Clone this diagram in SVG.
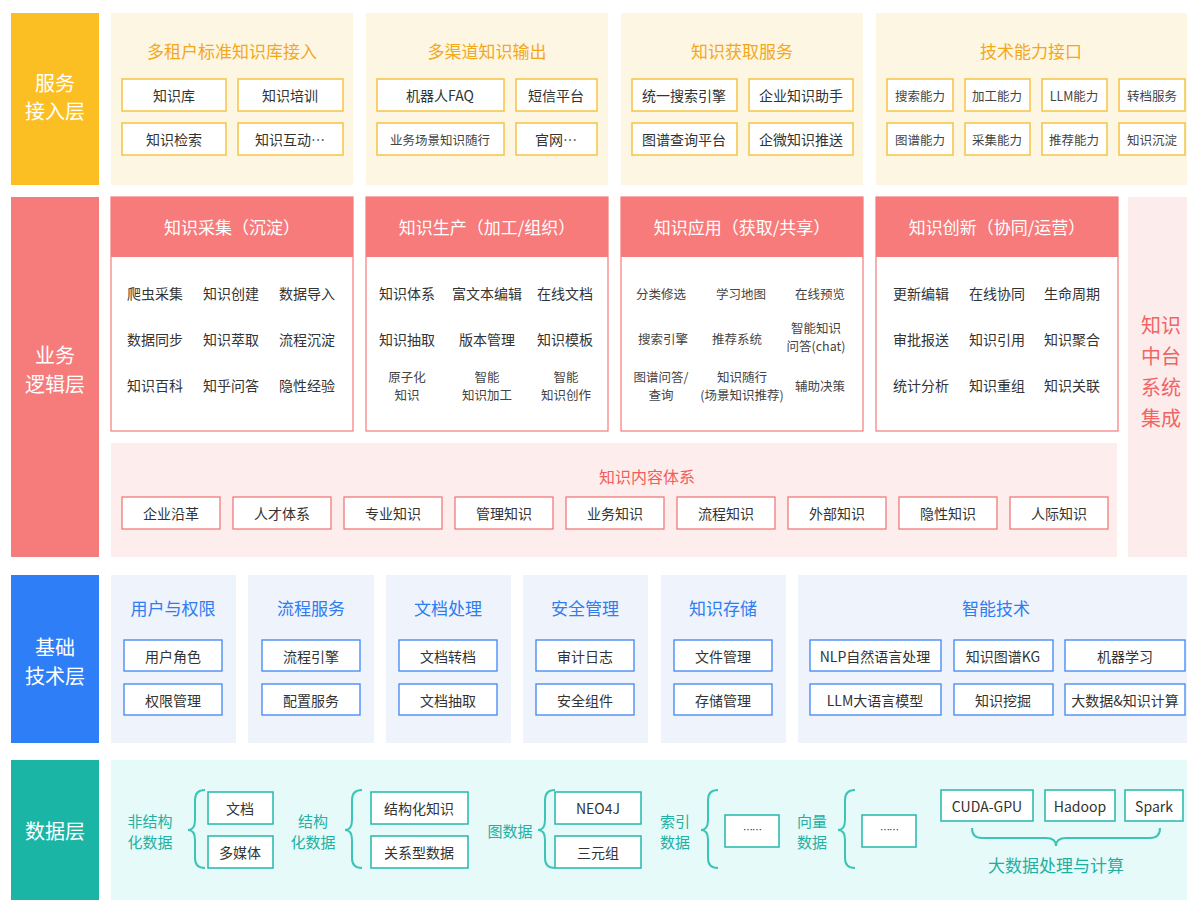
<svg xmlns="http://www.w3.org/2000/svg" width="1200" height="913" viewBox="0 0 1200 913">
<style>
text{font-family:"Noto Sans CJK SC","Noto Sans",sans-serif;text-anchor:middle;dominant-baseline:central}
.lab{fill:#fff;font-size:20px}
.yt{fill:#F2A81D;font-size:17px}
.yb{fill:#fff;stroke:#F5C445;stroke-width:1.5}
.t{fill:#333;font-size:14px}
.ts{fill:#444;font-size:12.5px}
.rh{fill:#F77B7B}
.rb{fill:#fff;stroke:#F77B7B;stroke-width:1.2}
.rt{fill:#fff;font-size:17px}
.pb{fill:#fff;stroke:#F07070;stroke-width:1.2}
.bt{fill:#2F7DF0;font-size:17px}
.bb{fill:#fff;stroke:#3F86F5;stroke-width:1.3}
.gb{fill:#fff;stroke:#22B8AA;stroke-width:1.5}
.gt{fill:#22B0A3;font-size:15px}
.br{fill:none;stroke:#3CC4B6;stroke-width:2}
.dots{fill:#333;font-size:10px;letter-spacing:-1px}
</style>
<rect width="1200" height="913" fill="#fff"/>
<!-- Row 1 -->
<g id="row1">
<rect x="11" y="13" width="88" height="172" fill="#FBBF24"/>
<text class="lab" x="55" y="82">服务</text><text class="lab" x="55" y="110">接入层</text>
<g id="p1"><rect x="111" y="13" width="242" height="172" fill="#FDF6E3"/>
<text class="yt" x="232" y="50">多租户标准知识库接入</text>
<rect class="yb" x="122" y="79" width="104" height="32"/><text class="t" x="174" y="95">知识库</text>
<rect class="yb" x="238" y="79" width="105" height="32"/><text class="t" x="290" y="95">知识培训</text>
<rect class="yb" x="122" y="123" width="104" height="32"/><text class="t" x="174" y="139">知识检索</text>
<rect class="yb" x="238" y="123" width="105" height="32"/><text class="t" x="290" y="139">知识互动…</text></g>
<g id="p2"><rect x="366" y="13" width="242" height="172" fill="#FDF6E3"/>
<text class="yt" x="487" y="50">多渠道知识输出</text>
<rect class="yb" x="377" y="79" width="127" height="32"/><text class="t" x="440" y="95">机器人FAQ</text>
<rect class="yb" x="516" y="79" width="81" height="32"/><text class="t" x="556" y="95">短信平台</text>
<rect class="yb" x="377" y="123" width="127" height="32"/><text class="ts" x="440" y="139">业务场景知识随行</text>
<rect class="yb" x="516" y="123" width="81" height="32"/><text class="t" x="556" y="139">官网…</text></g>
<g id="p3"><rect x="621" y="13" width="242" height="172" fill="#FDF6E3"/>
<text class="yt" x="742" y="50">知识获取服务</text>
<rect class="yb" x="632" y="79" width="105" height="32"/><text class="t" x="684" y="95">统一搜索引擎</text>
<rect class="yb" x="749" y="79" width="104" height="32"/><text class="t" x="801" y="95">企业知识助手</text>
<rect class="yb" x="632" y="123" width="105" height="32"/><text class="t" x="684" y="139">图谱查询平台</text>
<rect class="yb" x="749" y="123" width="104" height="32"/><text class="t" x="801" y="139">企微知识推送</text></g>
<g id="p4"><rect x="876" y="13" width="311" height="172" fill="#FDF6E3"/>
<text class="yt" x="1031" y="50">技术能力接口</text>
<rect class="yb" x="887" y="79" width="66" height="32"/><text class="ts" x="920" y="95">搜索能力</text>
<rect class="yb" x="965" y="79" width="65" height="32"/><text class="ts" x="997" y="95">加工能力</text>
<rect class="yb" x="1042" y="79" width="65" height="32"/><text class="ts" x="1074" y="95">LLM能力</text>
<rect class="yb" x="1119" y="79" width="66" height="32"/><text class="ts" x="1152" y="95">转档服务</text>
<rect class="yb" x="887" y="123" width="66" height="32"/><text class="ts" x="920" y="139">图谱能力</text>
<rect class="yb" x="965" y="123" width="65" height="32"/><text class="ts" x="997" y="139">采集能力</text>
<rect class="yb" x="1042" y="123" width="65" height="32"/><text class="ts" x="1074" y="139">推荐能力</text>
<rect class="yb" x="1119" y="123" width="66" height="32"/><text class="ts" x="1152" y="139">知识沉淀</text></g>
</g>
<!-- Row 2 -->
<g id="row2">
<rect x="11" y="197" width="88" height="360" fill="#F67B7B"/>
<text class="lab" x="55" y="354">业务</text><text class="lab" x="55" y="383">逻辑层</text>
<g id="q1"><rect class="rb" x="111" y="197" width="242" height="234"/><rect class="rh" x="111" y="197" width="242" height="60"/>
<text class="rt" x="232" y="226">知识采集（沉淀）</text>
<text class="t" x="155" y="293">爬虫采集</text><text class="t" x="231" y="293">知识创建</text><text class="t" x="307" y="293">数据导入</text>
<text class="t" x="155" y="339">数据同步</text><text class="t" x="231" y="339">知识萃取</text><text class="t" x="307" y="339">流程沉淀</text>
<text class="t" x="155" y="385">知识百科</text><text class="t" x="231" y="385">知乎问答</text><text class="t" x="307" y="385">隐性经验</text></g>
<g id="q2"><rect class="rb" x="366" y="197" width="242" height="234"/><rect class="rh" x="366" y="197" width="242" height="60"/>
<text class="rt" x="487" y="226">知识生产（加工/组织）</text>
<text class="t" x="407" y="293">知识体系</text><text class="t" x="487" y="293">富文本编辑</text><text class="t" x="565" y="293">在线文档</text>
<text class="t" x="407" y="339">知识抽取</text><text class="t" x="487" y="339">版本管理</text><text class="t" x="565" y="339">知识模板</text>
<text class="ts" x="407" y="376">原子化</text><text class="ts" x="407" y="394">知识</text>
<text class="ts" x="487" y="376">智能</text><text class="ts" x="487" y="394">知识加工</text>
<text class="ts" x="566" y="376">智能</text><text class="ts" x="566" y="394">知识创作</text></g>
<g id="q3"><rect class="rb" x="621" y="197" width="242" height="234"/><rect class="rh" x="621" y="197" width="242" height="60"/>
<text class="rt" x="742" y="226">知识应用（获取/共享）</text>
<text class="ts" x="661" y="293">分类修选</text><text class="ts" x="741" y="293">学习地图</text><text class="ts" x="820" y="293">在线预览</text>
<text class="ts" x="663" y="338">搜索引擎</text><text class="ts" x="737" y="338">推荐系统</text>
<text class="ts" x="816" y="327">智能知识</text><text class="ts" x="816" y="345">问答(chat)</text>
<text class="ts" x="661" y="376">图谱问答/</text><text class="ts" x="661" y="394">查询</text>
<text class="ts" x="742" y="376">知识随行</text><text class="ts" x="742" y="394">(场景知识推荐)</text>
<text class="ts" x="820" y="385">辅助决策</text></g>
<g id="q4"><rect class="rb" x="876" y="197" width="242" height="234"/><rect class="rh" x="876" y="197" width="242" height="60"/>
<text class="rt" x="997" y="226">知识创新（协同/运营）</text>
<text class="t" x="921" y="293">更新编辑</text><text class="t" x="997" y="293">在线协同</text><text class="t" x="1072" y="293">生命周期</text>
<text class="t" x="921" y="339">审批报送</text><text class="t" x="997" y="339">知识引用</text><text class="t" x="1072" y="339">知识聚合</text>
<text class="t" x="921" y="385">统计分析</text><text class="t" x="997" y="385">知识重组</text><text class="t" x="1072" y="385">知识关联</text></g>
<g id="side"><rect x="1128" y="197" width="59" height="360" fill="#FDECEC"/>
<text fill="#F26464" font-size="20" x="1161" y="324">知识</text><text fill="#F26464" font-size="20" x="1161" y="355">中台</text>
<text fill="#F26464" font-size="20" x="1161" y="386">系统</text><text fill="#F26464" font-size="20" x="1161" y="417">集成</text></g>
<g id="content"><rect x="111" y="443" width="1006" height="114" fill="#FDEDED"/>
<text fill="#F25C5C" font-size="16" x="647" y="476">知识内容体系</text>
<rect class="pb" x="122" y="497" width="98" height="32"/><text class="t" x="171" y="513">企业沿革</text>
<rect class="pb" x="233" y="497" width="98" height="32"/><text class="t" x="282" y="513">人才体系</text>
<rect class="pb" x="344" y="497" width="98" height="32"/><text class="t" x="393" y="513">专业知识</text>
<rect class="pb" x="455" y="497" width="98" height="32"/><text class="t" x="504" y="513">管理知识</text>
<rect class="pb" x="566" y="497" width="98" height="32"/><text class="t" x="615" y="513">业务知识</text>
<rect class="pb" x="677" y="497" width="98" height="32"/><text class="t" x="726" y="513">流程知识</text>
<rect class="pb" x="788" y="497" width="98" height="32"/><text class="t" x="837" y="513">外部知识</text>
<rect class="pb" x="899" y="497" width="98" height="32"/><text class="t" x="948" y="513">隐性知识</text>
<rect class="pb" x="1010" y="497" width="98" height="32"/><text class="t" x="1059" y="513">人际知识</text></g>
</g>
<!-- Row 3 -->
<g id="row3">
<rect x="11" y="575" width="88" height="168" fill="#2D7EF7"/>
<text class="lab" x="55" y="646">基础</text><text class="lab" x="55" y="675">技术层</text>
<g id="b1"><rect x="111" y="575" width="125" height="168" fill="#EEF3FC"/><text class="bt" x="173" y="607">用户与权限</text>
<rect class="bb" x="124" y="640" width="98" height="31"/><text class="t" x="173" y="656">用户角色</text>
<rect class="bb" x="124" y="684" width="98" height="31"/><text class="t" x="173" y="700">权限管理</text></g>
<g id="b2"><rect x="248" y="575" width="126" height="168" fill="#EEF3FC"/><text class="bt" x="311" y="607">流程服务</text>
<rect class="bb" x="262" y="640" width="98" height="31"/><text class="t" x="311" y="656">流程引擎</text>
<rect class="bb" x="262" y="684" width="98" height="31"/><text class="t" x="311" y="700">配置服务</text></g>
<g id="b3"><rect x="386" y="575" width="125" height="168" fill="#EEF3FC"/><text class="bt" x="448" y="607">文档处理</text>
<rect class="bb" x="399" y="640" width="98" height="31"/><text class="t" x="448" y="656">文档转档</text>
<rect class="bb" x="399" y="684" width="98" height="31"/><text class="t" x="448" y="700">文档抽取</text></g>
<g id="b4"><rect x="523" y="575" width="125" height="168" fill="#EEF3FC"/><text class="bt" x="585" y="607">安全管理</text>
<rect class="bb" x="536" y="640" width="98" height="31"/><text class="t" x="585" y="656">审计日志</text>
<rect class="bb" x="536" y="684" width="98" height="31"/><text class="t" x="585" y="700">安全组件</text></g>
<g id="b5"><rect x="661" y="575" width="125" height="168" fill="#EEF3FC"/><text class="bt" x="723" y="607">知识存储</text>
<rect class="bb" x="674" y="640" width="98" height="31"/><text class="t" x="723" y="656">文件管理</text>
<rect class="bb" x="674" y="684" width="98" height="31"/><text class="t" x="723" y="700">存储管理</text></g>
<g id="b6"><rect x="798" y="575" width="389" height="168" fill="#EEF3FC"/><text class="bt" x="996" y="607">智能技术</text>
<rect class="bb" x="810" y="640" width="131" height="31"/><text class="t" x="875" y="656">NLP自然语言处理</text>
<rect class="bb" x="954" y="640" width="99" height="31"/><text class="t" x="1003" y="656">知识图谱KG</text>
<rect class="bb" x="1065" y="640" width="120" height="31"/><text class="t" x="1125" y="656">机器学习</text>
<rect class="bb" x="810" y="684" width="131" height="31"/><text class="t" x="875" y="700">LLM大语言模型</text>
<rect class="bb" x="954" y="684" width="99" height="31"/><text class="t" x="1003" y="700">知识挖掘</text>
<rect class="bb" x="1065" y="684" width="120" height="31"/><text class="t" x="1125" y="700">大数据&amp;知识计算</text></g>
</g>
<!-- Row 4 -->
<g id="row4">
<rect x="11" y="760" width="88" height="140" fill="#1BB5A6"/>
<text class="lab" x="55" y="830">数据层</text>
<rect x="111" y="760" width="1076" height="140" fill="#E6FAF9"/>
<g id="d1"><text class="gt" x="150" y="820">非结构</text><text class="gt" x="150" y="841">化数据</text>
<rect class="gb" x="208" y="792" width="65" height="32"/><text class="t" x="240" y="808">文档</text>
<rect class="gb" x="208" y="836" width="65" height="32"/><text class="t" x="240" y="852">多媒体</text></g>
<g id="d2"><text class="gt" x="313" y="820">结构</text><text class="gt" x="313" y="841">化数据</text>
<rect class="gb" x="371" y="792" width="97" height="32"/><text class="t" x="419" y="808">结构化知识</text>
<rect class="gb" x="371" y="836" width="97" height="32"/><text class="t" x="419" y="852">关系型数据</text></g>
<g id="d3"><text class="gt" x="510" y="830">图数据</text>
<rect class="gb" x="555" y="792" width="86" height="32"/><text class="t" x="598" y="808">NEO4J</text>
<rect class="gb" x="555" y="836" width="86" height="32"/><text class="t" x="598" y="852">三元组</text></g>
<g id="d4"><text class="gt" x="675" y="820">索引</text><text class="gt" x="675" y="841">数据</text>
<rect class="gb" x="725" y="815" width="54" height="32"/><text class="dots" x="752" y="829">……</text></g>
<g id="d5"><text class="gt" x="812" y="820">向量</text><text class="gt" x="812" y="841">数据</text>
<rect class="gb" x="862" y="815" width="54" height="32"/><text class="dots" x="889" y="829">……</text></g>
<g id="d6">
<rect class="gb" x="941" y="790" width="92" height="31"/><text class="t" x="987" y="806">CUDA-GPU</text>
<rect class="gb" x="1045" y="790" width="70" height="31"/><text class="t" x="1080" y="806">Hadoop</text>
<rect class="gb" x="1125" y="790" width="58" height="31"/><text class="t" x="1154" y="806">Spark</text>
<text fill="#1FAFA2" font-size="17" x="1056" y="864">大数据处理与计算</text></g>
<g id="braces">
<path class="br" d="M205 790 Q195 790 195 800 L195 820 Q195 830 188 830 Q195 830 195 840 L195 858 Q195 868 205 868"/>
<path class="br" d="M362 790 Q352 790 352 800 L352 820 Q352 830 345 830 Q352 830 352 840 L352 858 Q352 868 362 868"/>
<path class="br" d="M555 790 Q545 790 545 800 L545 820 Q545 830 538 830 Q545 830 545 840 L545 858 Q545 868 555 868"/>
<path class="br" d="M718 790 Q708 790 708 800 L708 820 Q708 830 701 830 Q708 830 708 840 L708 858 Q708 868 718 868"/>
<path class="br" d="M855 790 Q845 790 845 800 L845 820 Q845 830 838 830 Q845 830 845 840 L845 858 Q845 868 855 868"/>
<path class="br" d="M972 828 Q972 838 982 838 L1046 838 Q1056 838 1056 846 Q1056 838 1066 838 L1150 838 Q1160 838 1160 828"/>
</g>
</g>
</svg>
